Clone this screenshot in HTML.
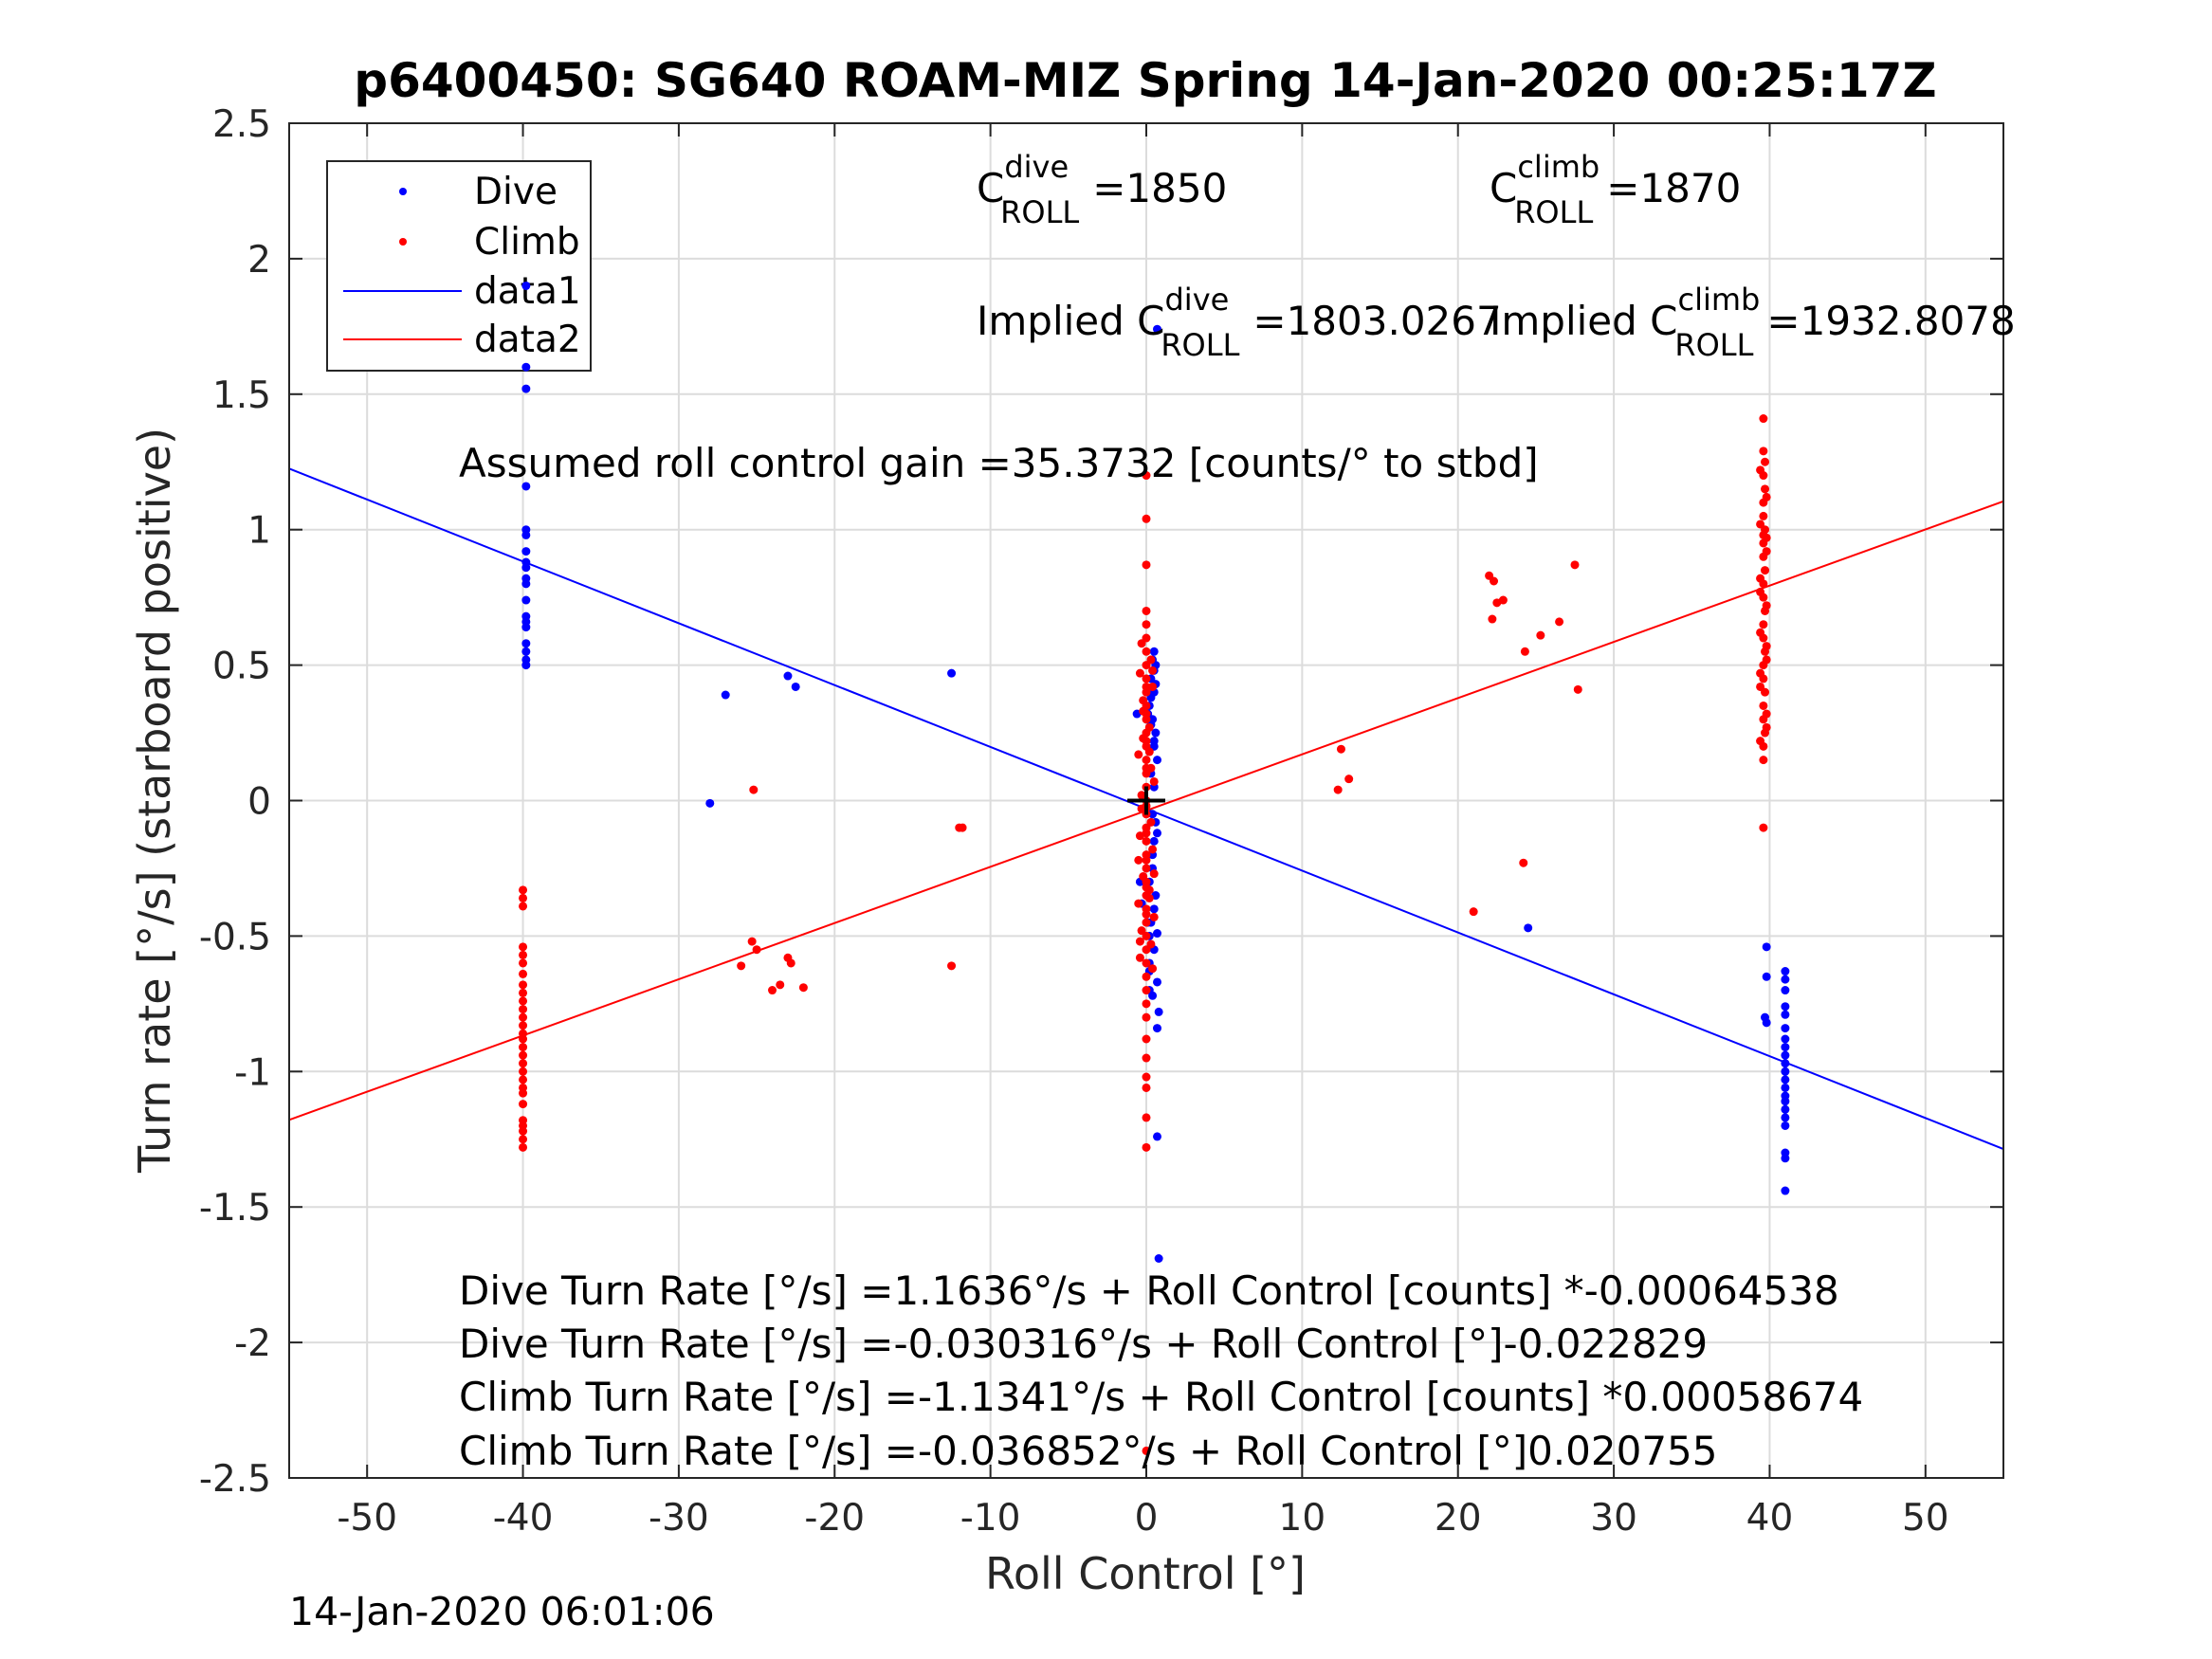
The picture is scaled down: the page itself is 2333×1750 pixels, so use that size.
<!DOCTYPE html>
<html><head><meta charset="utf-8"><style>
html,body{margin:0;padding:0;background:#fff;}
svg{display:block;font-family:"DejaVu Sans","Liberation Sans",sans-serif;}
</style></head><body>
<svg id="chart" width="2333" height="1750" viewBox="0 0 2333 1750" xmlns="http://www.w3.org/2000/svg">
<rect width="2333" height="1750" fill="#fff"/>
<g id="grid"></g>
<g id="lines"></g>
<g>
<rect x="345" y="170" width="278" height="221" fill="#fff" stroke="#262626" stroke-width="2"/>
<circle cx="425" cy="202" r="4" fill="#00f"/><text x="500" y="215" font-size="39">Dive</text>
<circle cx="425" cy="255" r="4" fill="#f00"/><text x="500" y="268" font-size="39">Climb</text>
<line x1="362" y1="307" x2="487" y2="307" stroke="#00f" stroke-width="2"/><text x="500" y="320" font-size="39">data1</text>
<line x1="362" y1="358" x2="487" y2="358" stroke="#f00" stroke-width="2"/><text x="500" y="371" font-size="39">data2</text>
</g>
<g id="pts"></g>
<g id="axes"></g>
<text x="1208" y="102" text-anchor="middle" font-size="50" font-weight="bold">p6400450: SG640 ROAM-MIZ Spring 14-Jan-2020 00:25:17Z</text>
<text x="1208" y="1676" text-anchor="middle" font-size="46" fill="#262626">Roll Control [°]</text>
<text transform="translate(179,844) rotate(-90)" text-anchor="middle" font-size="46" fill="#262626">Turn rate [°/s] (starboard positive)</text>
<text x="305" y="1714" font-size="41">14-Jan-2020 06:01:06</text>
<g font-size="42">
<text x="1030" y="213">C<tspan dy="-26" font-size="32">dive</tspan><tspan dx="-72" dy="48" font-size="32">ROLL</tspan><tspan dx="14" dy="-22">=1850</tspan></text>
<text x="1571" y="213">C<tspan dy="-26" font-size="32">climb</tspan><tspan dx="-90" dy="48" font-size="32">ROLL</tspan><tspan dx="14" dy="-22">=1870</tspan></text>
<text x="1030" y="353">Implied C<tspan dy="-26" font-size="32">dive</tspan><tspan dx="-72" dy="48" font-size="32">ROLL</tspan><tspan dx="14" dy="-22">=1803.0267</tspan></text>
<text x="1571" y="353">Implied C<tspan dy="-26" font-size="32">climb</tspan><tspan dx="-90" dy="48" font-size="32">ROLL</tspan><tspan dx="14" dy="-22">=1932.8078</tspan></text>
<text x="484" y="503">Assumed roll control gain =35.3732 [counts/° to stbd]</text>
<text x="484" y="1376">Dive Turn Rate [°/s] =1.1636°/s + Roll Control [counts] *-0.00064538</text>
<text x="484" y="1432">Dive Turn Rate [°/s] =-0.030316°/s + Roll Control [°]-0.022829</text>
<text x="484" y="1488">Climb Turn Rate [°/s] =-1.1341°/s + Roll Control [counts] *0.00058674</text>
<text x="484" y="1545">Climb Turn Rate [°/s] =-0.036852°/s + Roll Control [°]0.020755</text>
</g>
<script>
const xTicks=[-50,-40,-30,-20,-10,0,10,20,30,40,50];
const yTicks=[-2.5,-2,-1.5,-1,-0.5,0,0.5,1,1.5,2,2.5];
const diveFit=[-0.030316,-0.022829];
const climbFit=[-0.036852,0.020755];
const diveX=[-39.8,-39.8,-39.8,-39.8,-39.8,-39.8,-39.8,-39.8,-39.8,-39.8,-39.8,-39.8,-39.8,-39.8,-39.8,-39.8,-39.8,-39.8,-39.8,
-27,-23,-22.5,-12.5,-28,0.7,24.5,0.8,0.7,0.5,0.6,0.3,0.5,0.2,0.4,0.6,0.5,0.1,0.3,0.7,0.4,0.2,0.6,0.5,0.3,0.2,0.5,0.7,0.7,0.8,0.4,0.2,0.2,0.7,0.5,0.4,
-0.6,0.4,0.5,0.6,0.3,0.7,0.4,0.5,0.2,0.6,0.3,-0.3,-0.4,0.1,0.5,
39.8,39.8,39.7,39.8,41,41,41,41,41,41,41,41,41,41,41,41,41,41,41,41,41,41,41,41,41];
const diveY=[1.9,1.6,1.52,1.16,1.0,0.98,0.92,0.88,0.86,0.82,0.80,0.74,0.68,0.66,0.64,0.58,0.55,0.52,0.50,
0.39,0.46,0.42,0.47,-0.01,1.74,-0.47,-1.69,-1.24,0.55,0.5,0.45,0.4,0.35,0.3,0.25,0.2,0.32,0.1,-0.12,-0.2,-0.3,-0.35,-0.4,-0.45,-0.5,-0.55,-0.49,-0.67,-0.78,-0.72,-0.7,-0.63,-0.84,0.05,-0.05,
0.32,0.52,0.48,0.43,0.38,0.15,-0.25,-0.15,-0.6,-0.08,0.28,-0.38,-0.3,-0.45,0.22,
-0.54,-0.65,-0.80,-0.82,-0.63,-0.66,-0.70,-0.76,-0.79,-0.84,-0.88,-0.91,-0.94,-0.97,-1.0,-1.03,-1.06,-1.09,-1.11,-1.14,-1.17,-1.2,-1.3,-1.32,-1.44];
const climbX=[-40,-40,-40,-40,-40,-40,-40,-40,-40,-40,-40,-40,-40,-40,-40,-40,-40,-40,-40,-40,-40,-40,-40,-40,-40,-40,-40,-40,
-26,-25.3,-25,-25.2,-24,-23.5,-23,-22.8,-22,-12.5,-12,-11.8,12.5,12.3,13,21,24.2,22,22.3,22.5,22.9,22.2,24.3,25.3,26.5,27.5,27.7,
39.6,39.6,39.7,39.6,39.7,39.6,39.6,39.7,39.6,39.6,39.7,39.6,39.6,39.7,39.6,39.6,39.7,39.6,39.6,39.7,39.6,39.6,39.7,39.6,39.6,39.6,39.6,
0,0,0,0,0,0,0,0,0,0,0,0,0,0,0,0,0,0,0,0,0,0,0,0,0,0,0,0,0,0,0,0,0,0,0,0,0,0,0,0,0,0,0,0,0,0,0,0,0,0,
-0.3,0.3,-0.4,0.4,-0.2,0.2,-0.5,0.5,-0.3,0.3,-0.4,0.4,-0.2,0.2,-0.5,0.5,-0.3,0.3,-0.4,0.4,-0.2,0.2,-0.5,0.5,-0.3,0.3,-0.4,0.4,-0.2,0.2,
39.4,39.8,39.4,39.8,39.4,39.8,39.4,39.8,39.4,39.8,39.4,39.8,39.4,39.8,39.4,39.8];
const climbY=[-0.33,-0.36,-0.39,-0.54,-0.57,-0.60,-0.64,-0.68,-0.71,-0.74,-0.77,-0.80,-0.83,-0.86,-0.88,-0.91,-0.94,-0.97,-1.0,-1.03,-1.06,-1.08,-1.12,-1.18,-1.2,-1.22,-1.25,-1.28,
-0.61,-0.52,-0.55,0.04,-0.70,-0.68,-0.58,-0.60,-0.69,-0.61,-0.10,-0.10,0.19,0.04,0.08,-0.41,-0.23,0.83,0.81,0.73,0.74,0.67,0.55,0.61,0.66,0.87,0.41,
1.41,1.29,1.25,1.2,1.15,1.1,1.05,1.0,0.95,0.9,0.85,0.8,0.75,0.7,0.65,0.6,0.55,0.5,0.45,0.4,0.35,0.3,0.25,0.2,0.15,-0.10,0.98,
1.2,1.04,0.87,0.7,0.65,0.6,0.55,0.5,0.45,0.4,0.35,0.3,0.25,0.2,0.15,0.1,0.05,0.0,-0.05,-0.1,-0.15,-0.2,-0.25,-0.3,-0.35,-0.4,-0.45,-0.5,-0.55,-0.6,-0.65,-0.7,-0.75,-0.8,-0.88,-0.95,-1.02,-1.06,-1.17,-1.28,-0.02,0.12,-0.12,0.22,-0.22,0.32,-0.32,0.42,-0.42,-2.4,
0.58,0.52,0.47,0.42,0.37,0.27,0.17,0.07,-0.03,-0.08,-0.13,-0.18,-0.28,-0.33,-0.38,-0.43,-0.48,-0.53,-0.58,-0.62,0.33,0.18,-0.22,-0.27,0.02,0.12,-0.52,0.48,0.23,-0.36,
1.22,1.12,1.02,0.92,0.82,0.72,0.62,0.52,0.42,0.32,0.22,0.97,0.77,0.57,0.47,0.27];
const X0=305,X1=2113,Y0=130,Y1=1559,xmin=-55,xmax=55,ymin=-2.5,ymax=2.5;
const sx=v=>X0+(v-xmin)/(xmax-xmin)*(X1-X0);
const sy=v=>Y1-(v-ymin)/(ymax-ymin)*(Y1-Y0);
const NS='http://www.w3.org/2000/svg';
function mk(tag,parent,attrs){const e=document.createElementNS(NS,tag);for(const k in attrs)e.setAttribute(k,attrs[k]);document.getElementById(parent).appendChild(e);return e;}
xTicks.forEach(t=>{
  const g=mk('line','grid',{x1:sx(t),x2:sx(t),y1:Y0,y2:Y1,stroke:'#dcdcdc','stroke-width':2});
  
  
  mk('line','axes',{x1:sx(t),x2:sx(t),y1:Y1,y2:Y1-14,stroke:'#262626','stroke-width':2});
  mk('line','axes',{x1:sx(t),x2:sx(t),y1:Y0,y2:Y0+14,stroke:'#262626','stroke-width':2});
  const l=mk('text','axes',{x:sx(t),y:1614,'text-anchor':'middle','font-size':39,fill:'#262626'});
  l.textContent=String(t);
  
  
});
yTicks.forEach(t=>{
  const g=mk('line','grid',{x1:X0,x2:X1,y1:sy(t),y2:sy(t),stroke:'#dcdcdc','stroke-width':2});
  
  
  mk('line','axes',{x1:X0,x2:X0+14,y1:sy(t),y2:sy(t),stroke:'#262626','stroke-width':2});
  mk('line','axes',{x1:X1,x2:X1-14,y1:sy(t),y2:sy(t),stroke:'#262626','stroke-width':2});
  const l=mk('text','axes',{x:286,y:sy(t)+14,'text-anchor':'end','font-size':39,fill:'#262626'});
  l.textContent=String(t);
  
  
});
const box=mk('rect','axes',{x:X0,y:Y0,width:X1-X0,height:Y1-Y0,fill:'none',stroke:'#262626','stroke-width':2});


[[diveFit,'#00f','data1-line'],[climbFit,'#f00','data2-line']].forEach(([f,c,n])=>{
  const l=mk('line','lines',{x1:sx(xmin),y1:sy(f[0]+f[1]*xmin),x2:sx(xmax),y2:sy(f[0]+f[1]*xmax),stroke:c,'stroke-width':2});
  
  
});
diveX.forEach((x,i)=>{
  const c=mk('circle','pts',{cx:sx(x),cy:sy(diveY[i]),r:4.5,fill:'#00f'});
  
  
});
climbX.forEach((x,i)=>{
  const c=mk('circle','pts',{cx:sx(x),cy:sy(climbY[i]),r:4.5,fill:'#f00'});
  
  
});
const cr=mk('path','pts',{d:`M${sx(0)-20},${sy(0)}H${sx(0)+20}M${sx(0)},${sy(0)-15}V${sy(0)+15}`,stroke:'#000','stroke-width':4});


</script>
</svg>
</body></html>
